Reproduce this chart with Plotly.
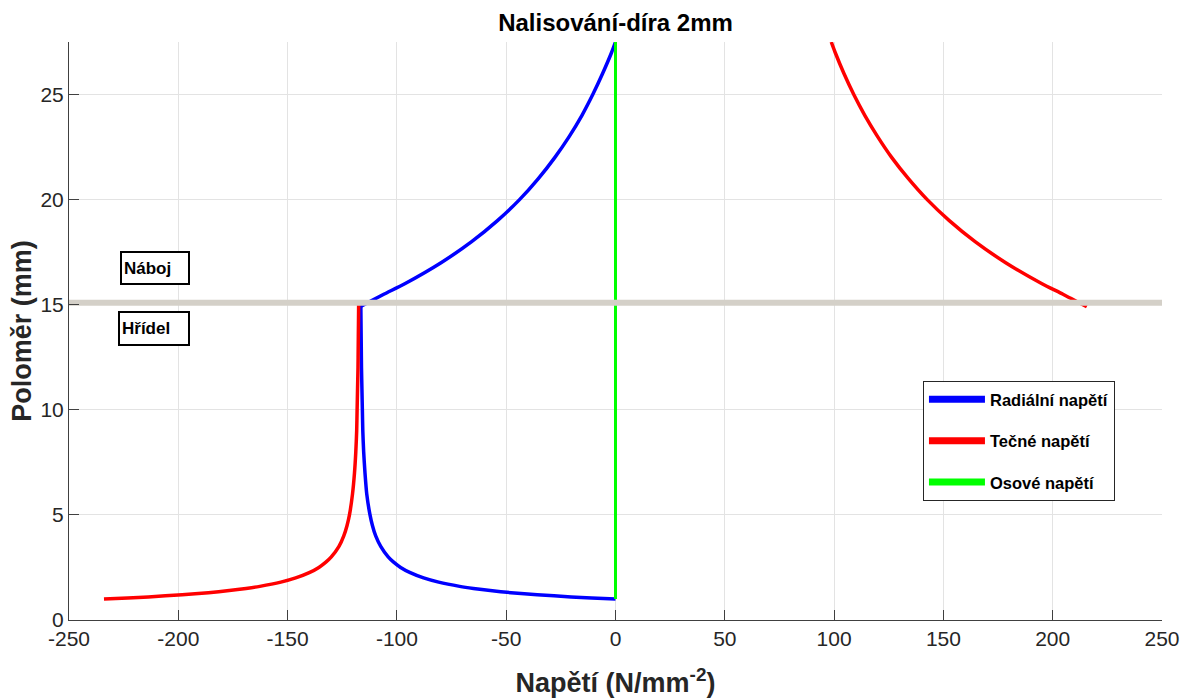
import plotly.graph_objects as go

# --- data ---
r_hridel = [1, 1.05, 1.1, 1.2, 1.3, 1.4, 1.5, 1.6, 1.8, 2, 2.25, 2.5, 2.75, 3, 3.5, 4,
            4.5, 5, 6, 7, 8, 9, 10, 11, 12, 13, 14, 15]
radial_hridel = [0, -10.9, -20.3, -35.8, -47.8, -57.3, -65.0, -71.3, -80.9, -87.8, -93.9,
                 -98.3, -101.5, -104.0, -107.4, -109.7, -111.2, -112.3, -113.8, -114.6,
                 -115.2, -115.6, -115.8, -116.0, -116.2, -116.3, -116.4, -116.5]
tecne_hridel = [-234.0, -223.1, -213.7, -198.2, -186.2, -176.7, -169.0, -162.7, -153.1,
                -146.3, -140.1, -135.7, -132.5, -130.0, -126.5, -124.3, -122.8, -121.7,
                -120.3, -119.4, -118.8, -118.4, -118.2, -118.0, -117.8, -117.7, -117.6,
                -117.5]
r_naboj = [14.9, 15.5, 16, 17, 18, 19, 20, 21, 22, 23, 24, 25, 26, 27, 27.5]
radial_naboj = [-117.0, -106.0, -96.4, -79.8, -65.8, -54.0, -43.9, -35.3, -27.8, -21.2,
                -15.4, -10.4, -5.9, -1.8, 0]
tecne_naboj = [215.6, 204.7, 195.1, 178.5, 164.5, 152.7, 142.6, 134.0, 126.4, 119.9,
               114.1, 109.0, 104.5, 100.5, 98.7]
osove_x = [0, 0]
osove_r = [1, 27.5]
rozhrani_x = [-250, 250]
rozhrani_r = [15.1, 15.1]

series_names = ["Radiální napětí", "Tečné napětí", "Osové napětí"]
series_colors = ["#0000ff", "#ff0000", "#00ff00"]
x_ticks = [-250, -200, -150, -100, -50, 0, 50, 100, 150, 200, 250]
y_ticks = [0, 5, 10, 15, 20, 25]

FONT = "Liberation Sans, Arial, Helvetica, sans-serif"
AX = "#404040"

fig = go.Figure()

def curve(x, y, color, width=3.5):
    fig.add_trace(go.Scatter(x=x, y=y, mode="lines", showlegend=False,
                             line=dict(color=color, width=width, shape="spline", smoothing=0.6),
                             hoverinfo="skip"))

curve(radial_hridel, r_hridel, series_colors[0])
curve(radial_naboj, r_naboj, series_colors[0])
curve(tecne_hridel, r_hridel, series_colors[1])
curve(tecne_naboj, r_naboj, series_colors[1])
curve(osove_x, osove_r, series_colors[2], width=3)

# interface line (shaft / hub)
fig.add_trace(go.Scatter(x=rozhrani_x, y=rozhrani_r, mode="lines", showlegend=False,
                         line=dict(color="#d4d0c8", width=6), hoverinfo="skip"))

# legend entries
for i, (nm, col) in enumerate(zip(series_names, series_colors)):
    fig.add_trace(go.Scatter(x=[None], y=[None], mode="lines", name=nm,
                             legendgroup=f"g{i}", line=dict(color=col, width=7)))

fig.add_annotation(x=-210.6, y=16.74, text="<b>Náboj</b>", showarrow=False,
                   font=dict(family=FONT, size=17, color="black"), align="left",
                   bordercolor="black", borderwidth=2, borderpad=2, width=62, height=26,
                   bgcolor="white")
fig.add_annotation(x=-211.2, y=13.89, text="<b>Hřídel</b>", showarrow=False,
                   font=dict(family=FONT, size=17, color="black"), align="left",
                   bordercolor="black", borderwidth=2, borderpad=2, width=64, height=27,
                   bgcolor="white")

fig.update_layout(
    width=1182, height=698,
    margin=dict(l=69, r=20, t=42, b=78),
    paper_bgcolor="white", plot_bgcolor="white",
    font=dict(family=FONT, color="#262626"),
    title=dict(text="<b>Nalisování-díra 2mm</b>", x=0.5, xref="paper", xanchor="center",
               y=0.968, yref="container", yanchor="middle",
               font=dict(family=FONT, size=24, color="black")),
    legend=dict(x=0.7813, y=0.4135, xanchor="left", yanchor="top",
                bordercolor="#262626", borderwidth=1, bgcolor="white",
                font=dict(family=FONT, size=16.5, color="black", weight="bold"),
                tracegroupgap=17, itemwidth=56),
    showlegend=True,
)
fig.update_xaxes(range=[-250, 250], tickvals=x_ticks, ticktext=[str(v) for v in x_ticks],
                 showgrid=True, gridcolor="#e3e3e3", zeroline=False, automargin=False,
                 showline=True, linecolor=AX, linewidth=1,
                 ticks="inside", ticklen=10, tickcolor=AX, ticklabeloverflow="allow",
                 tickfont=dict(family=FONT, size=21, color="#262626"),
                 title=dict(text="<b>Napětí (N/mm<sup>-2</sup>)</b>", standoff=26,
                            font=dict(family=FONT, size=27, color="#262626")))
fig.update_yaxes(range=[0, 27.5], tickvals=y_ticks, ticktext=[str(v) for v in y_ticks],
                 showgrid=True, gridcolor="#e3e3e3", zeroline=False, automargin=False,
                 showline=True, linecolor=AX, linewidth=1,
                 ticks="inside", ticklen=10, tickcolor=AX,
                 tickfont=dict(family=FONT, size=21, color="#262626"),
                 title=dict(text="<b>Poloměr (mm)</b>", standoff=0,
                            font=dict(family=FONT, size=27, color="#262626")))

# remove the default 8px page margin so the figure fills the window exactly
fig.write_html("out.html", config={"displayModeBar": False},
               post_script="document.body.style.margin='0px';")
